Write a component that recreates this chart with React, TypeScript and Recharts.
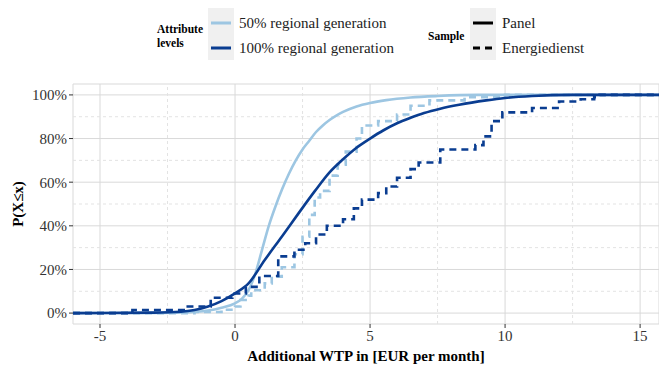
import { LineChart, Line, XAxis, YAxis, CartesianGrid, ReferenceLine } from 'recharts';

// ECDF of additional WTP (EUR per month)
const panel50X = [-6, -3, -2, -1, -0.5, 0, 0.25, 0.5, 0.75, 1, 1.25, 1.5, 1.75, 2, 2.25, 2.5, 2.75, 3, 3.25, 3.5, 3.75, 4, 4.5, 5, 5.6, 6.5, 7.5, 9, 15.7];
const panel50P = [0, 0.001, 0.003, 0.012, 0.025, 0.045, 0.065, 0.105, 0.18, 0.29, 0.4, 0.49, 0.57, 0.64, 0.7, 0.75, 0.79, 0.83, 0.86, 0.885, 0.905, 0.922, 0.947, 0.963, 0.976, 0.988, 0.995, 1, 1];

const panel100X = [-6, -3, -2, -1.5, -1, -0.5, 0, 0.5, 1.1, 1.73, 2.35, 2.96, 3.5, 4, 4.5, 5, 5.5, 6, 6.5, 7, 7.6, 8.3, 9.3, 10, 11, 12.5, 15.7];
const panel100P = [0, 0.002, 0.006, 0.014, 0.03, 0.055, 0.09, 0.136, 0.243, 0.35, 0.457, 0.56, 0.645, 0.705, 0.758, 0.8, 0.838, 0.87, 0.895, 0.917, 0.937, 0.955, 0.975, 0.986, 0.995, 1, 1];

const energie50X = [-6, -1.5, -0.5, 0, 0.2, 0.5, 0.6, 1.1, 1.36, 1.73, 2.2, 2.5, 2.75, 2.95, 3.15, 3.5, 3.8, 4.1, 4.5, 4.7, 5.3, 6.0, 6.5, 7.2, 8.5, 10, 15.7];
const energie50P = [0, 0.005, 0.015, 0.03, 0.06, 0.08, 0.105, 0.136, 0.167, 0.21, 0.27, 0.35, 0.45, 0.53, 0.56, 0.63, 0.68, 0.74, 0.8, 0.86, 0.88, 0.91, 0.95, 0.975, 0.99, 1, 1];

const energie100X = [-6, -3.8, -1.9, -0.9, -0.1, 0.4, 0.9, 1.6, 2.2, 2.6, 3.0, 3.4, 4.0, 4.4, 4.7, 5.3, 5.6, 6.0, 6.5, 6.8, 7.6, 8.9, 9.2, 9.5, 9.9, 11.0, 12.0, 12.8, 13.3, 13.5, 15.7];
const energie100P = [0, 0.014, 0.03, 0.07, 0.09, 0.12, 0.17, 0.26, 0.29, 0.32, 0.36, 0.4, 0.43, 0.48, 0.52, 0.55, 0.58, 0.62, 0.66, 0.69, 0.75, 0.77, 0.81, 0.88, 0.92, 0.94, 0.97, 0.98, 0.99, 1, 1];

const xTicks = [-5, 0, 5, 10, 15];
const xMinor = [-2.5, 2.5, 7.5, 12.5];
const yTicks = [0, 0.2, 0.4, 0.6, 0.8, 1];
const yMinor = [0.1, 0.3, 0.5, 0.7, 0.9];

const LIGHT = '#9DC6E2';
const DARK = '#0A3D91';
const FONT = '"Liberation Serif", "Times New Roman", serif';

const zip = (xs: number[], ps: number[]) => xs.map((x, i) => ({ x, p: ps[i] }));

function YTitle(props: any) {
  const { viewBox } = props;
  const cx = viewBox.x + 18;
  const cy = viewBox.y + viewBox.height / 2;
  return (
    <text x={cx} y={cy} transform={`rotate(-90, ${cx}, ${cy})`} textAnchor="middle" dominantBaseline="central"
      style={{ fontFamily: FONT, fontSize: 15, fontWeight: 'bold', fill: '#000' }}>
      P(X≤x)
    </text>
  );
}

function KeyLine({ color, dashed }: { color: string; dashed?: boolean }) {
  return (
    <svg width={20} height={6} style={{ display: 'block' }}>
      <line x1={0} y1={3} x2={20} y2={3} stroke={color} strokeWidth={3} strokeDasharray={dashed ? '7 5' : undefined} />
    </svg>
  );
}

export default function App() {
  const series = [
    { key: 'p50', data: zip(panel50X, panel50P), color: LIGHT, dashed: false, type: 'monotone' as const },
    { key: 'e50', data: zip(energie50X, energie50P), color: LIGHT, dashed: true, type: 'stepAfter' as const },
    { key: 'p100', data: zip(panel100X, panel100P), color: DARK, dashed: false, type: 'monotone' as const },
    { key: 'e100', data: zip(energie100X, energie100P), color: DARK, dashed: true, type: 'stepAfter' as const },
  ];

  const tickStyle = { fontFamily: FONT, fontSize: 15, fill: '#333' };
  const textStyle: React.CSSProperties = { position: 'absolute', fontFamily: FONT, fontSize: 15, color: '#222', whiteSpace: 'nowrap', lineHeight: '16px' };
  const boldSmall: React.CSSProperties = { position: 'absolute', fontFamily: FONT, fontSize: 11.5, fontWeight: 'bold', color: '#000', lineHeight: '14px' };

  return (
    <div style={{ position: 'absolute', left: 0, top: 0, width: 659, height: 365, background: '#fff' }}>
      {/* legend */}
      <div style={{ ...boldSmall, left: 157, top: 22 }}>Attribute<br />levels</div>
      <div style={{ position: 'absolute', left: 208, top: 8, width: 26, height: 52, background: '#f0f0f0' }} />
      <div style={{ position: 'absolute', left: 211, top: 20 }}><KeyLine color={LIGHT} /></div>
      <div style={{ position: 'absolute', left: 211, top: 45 }}><KeyLine color={DARK} /></div>
      <div style={{ ...textStyle, left: 239, top: 15 }}>50% regional generation</div>
      <div style={{ ...textStyle, left: 239, top: 40 }}>100% regional generation</div>

      <div style={{ ...boldSmall, left: 428, top: 29 }}>Sample</div>
      <div style={{ position: 'absolute', left: 470, top: 8, width: 26, height: 52, background: '#f0f0f0' }} />
      <div style={{ position: 'absolute', left: 473, top: 20 }}><KeyLine color="#000" /></div>
      <div style={{ position: 'absolute', left: 473, top: 45 }}><KeyLine color="#000" dashed /></div>
      <div style={{ ...textStyle, left: 502, top: 15 }}>Panel</div>
      <div style={{ ...textStyle, left: 502, top: 40 }}>Energiedienst</div>

      <LineChart width={659} height={365} margin={{ top: 84, right: 0, bottom: 0, left: 0 }}>
        <CartesianGrid stroke="#d9d9d9" strokeWidth={1} />
        {xMinor.map((v) => (
          <ReferenceLine key={`xm${v}`} x={v} stroke="#e3e3e3" strokeDasharray="3 3" />
        ))}
        {yMinor.map((v) => (
          <ReferenceLine key={`ym${v}`} y={v} stroke="#e3e3e3" strokeDasharray="3 3" />
        ))}
        <XAxis
          type="number"
          dataKey="x"
          domain={[-6, 15.7]}
          ticks={xTicks}
          allowDataOverflow
          height={41}
          axisLine={false}
          tickLine={{ stroke: '#333' }}
          tickSize={4}
          tick={tickStyle}
          label={{ value: 'Additional WTP in [EUR per month]', position: 'insideBottom', offset: 4, style: { fontFamily: FONT, fontSize: 15, fontWeight: 'bold', fill: '#000' } }}
        />
        <YAxis
          type="number"
          dataKey="p"
          domain={[-0.05, 1.05]}
          ticks={yTicks}
          allowDataOverflow
          width={73}
          axisLine={false}
          tickLine={{ stroke: '#333' }}
          tickSize={4}
          tick={tickStyle}
          tickFormatter={(v: number) => `${Math.round(v * 100)}%`}
          label={<YTitle />}
        />
        {series.map((s) => (
          <Line
            key={s.key}
            data={s.data}
            dataKey="p"
            type={s.type}
            stroke={s.color}
            strokeWidth={2.6}
            strokeDasharray={s.dashed ? '7 5' : undefined}
            dot={false}
            activeDot={false}
            isAnimationActive={false}
          />
        ))}
      </LineChart>
    </div>
  );
}
